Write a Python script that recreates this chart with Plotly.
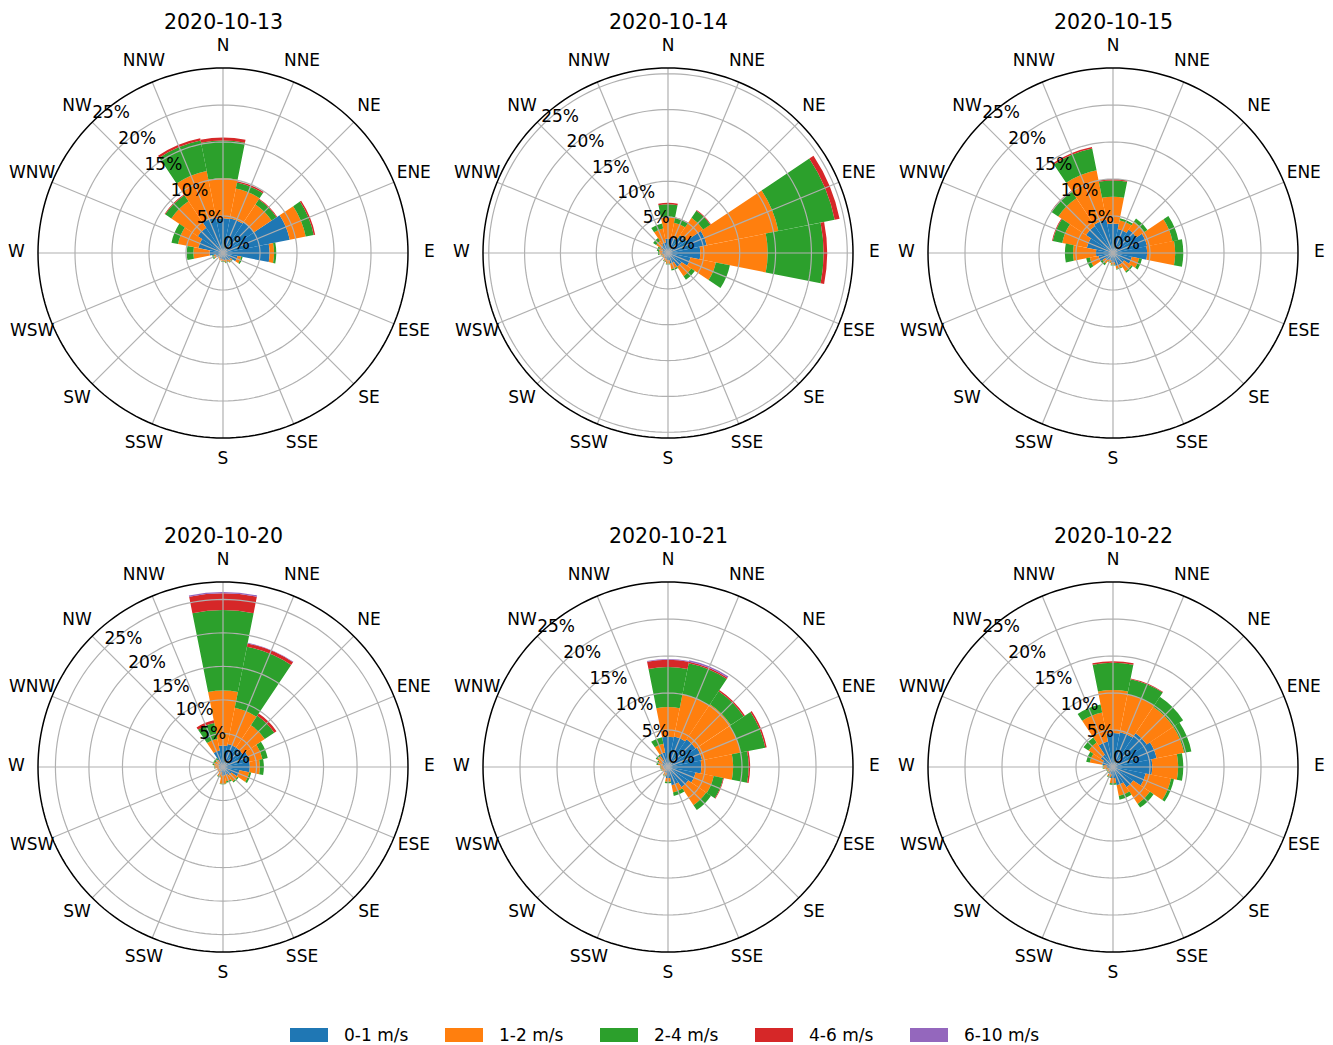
import plotly.graph_objects as go

# ---------------- data ----------------
directions = ["N", "NNE", "NE", "ENE", "E", "ESE", "SE", "SSE",
              "S", "SSW", "SW", "WSW", "W", "WNW", "NW", "NNW"]
angles = [i * 22.5 for i in range(16)]
speed_bins = ["0-1 m/s", "1-2 m/s", "2-4 m/s", "4-6 m/s", "6-10 m/s"]
bin_colors = ["#1f77b4", "#ff7f0e", "#2ca02c", "#d62728", "#9467bd"]
days = ["2020-10-13", "2020-10-14", "2020-10-15",
        "2020-10-20", "2020-10-21", "2020-10-22"]
radial_ticks = [0, 5, 10, 15, 20, 25]
radial_labels = ["0%", "5%", "10%", "15%", "20%", "25%"]

# frequency (%) per speed bin (rows) and direction (columns N..NNW)
oct13 = [
    [4.7, 4.8, 5.0, 9.2, 6.3, 2.0, 1.2, 1.0, 0.9, 0.8, 0.6, 1.0, 1.8, 3.4, 4.1, 4.9],
    [5.4, 4.1, 2.9, 2.2, 0.6, 0.5, 0.3, 0.3, 0.2, 0.2, 0.2, 0.3, 2.2, 2.8, 4.3, 6.4],
    [5.1, 0.8, 0.8, 1.1, 0.3, 0.2, 0.1, 0.1, 0.1, 0.0, 0.0, 0.2, 0.9, 0.9, 1.0, 4.2],
    [0.4, 0.2, 0.1, 0.2, 0.0, 0.0, 0.0, 0.0, 0.0, 0.0, 0.0, 0.0, 0.0, 0.0, 0.1, 0.3],
    [0.0, 0.0, 0.0, 0.0, 0.0, 0.0, 0.0, 0.0, 0.0, 0.0, 0.0, 0.0, 0.0, 0.0, 0.0, 0.0],
]
oct14 = [
    [2.0, 2.2, 3.0, 5.5, 4.5, 3.2, 2.3, 1.5, 1.0, 0.8, 0.6, 0.6, 0.8, 0.8, 1.2, 1.5],
    [3.1, 2.1, 2.9, 10.2, 9.4, 3.6, 1.6, 0.8, 0.5, 0.4, 0.3, 0.3, 0.4, 0.5, 0.8, 2.0],
    [1.7, 0.7, 1.2, 8.0, 7.8, 2.0, 0.6, 0.2, 0.1, 0.1, 0.0, 0.1, 0.2, 0.3, 0.5, 0.7],
    [0.2, 0.1, 0.1, 0.7, 0.5, 0.0, 0.0, 0.0, 0.0, 0.0, 0.0, 0.0, 0.0, 0.0, 0.0, 0.0],
    [0.0, 0.0, 0.0, 0.0, 0.0, 0.0, 0.0, 0.0, 0.0, 0.0, 0.0, 0.0, 0.0, 0.0, 0.0, 0.0],
]
oct15 = [
    [4.0, 3.3, 3.8, 4.7, 4.6, 2.6, 1.8, 1.8, 1.3, 1.0, 1.2, 2.0, 2.3, 3.6, 4.4, 4.6],
    [3.6, 1.2, 1.3, 3.5, 3.8, 1.0, 1.2, 0.4, 0.3, 0.3, 0.5, 1.2, 3.1, 3.4, 4.5, 6.8],
    [2.2, 0.3, 0.5, 0.8, 1.1, 0.4, 0.2, 0.1, 0.1, 0.1, 0.3, 0.5, 1.1, 1.3, 1.1, 3.0],
    [0.2, 0.0, 0.0, 0.0, 0.0, 0.0, 0.0, 0.0, 0.0, 0.0, 0.0, 0.0, 0.0, 0.1, 0.1, 0.2],
    [0.0, 0.0, 0.0, 0.0, 0.0, 0.0, 0.0, 0.0, 0.0, 0.0, 0.0, 0.0, 0.0, 0.0, 0.0, 0.0],
]
oct20 = [
    [3.2, 3.5, 3.5, 4.0, 4.0, 2.5, 1.5, 1.2, 1.3, 0.8, 0.5, 0.5, 0.6, 0.7, 0.8, 2.5],
    [8.2, 5.5, 4.0, 2.0, 1.5, 1.5, 1.1, 1.0, 1.2, 0.7, 0.5, 0.4, 0.6, 0.7, 0.5, 1.8],
    [12.0, 9.3, 1.7, 0.8, 0.6, 0.3, 0.2, 0.2, 0.1, 0.1, 0.0, 0.0, 0.1, 0.2, 0.3, 2.4],
    [2.5, 0.5, 0.4, 0.0, 0.0, 0.0, 0.0, 0.0, 0.0, 0.0, 0.0, 0.0, 0.0, 0.0, 0.0, 0.4],
    [0.2, 0.1, 0.0, 0.0, 0.0, 0.0, 0.0, 0.0, 0.0, 0.0, 0.0, 0.0, 0.0, 0.0, 0.0, 0.0],
]
oct21 = [
    [4.1, 4.2, 4.5, 4.7, 4.5, 3.8, 3.3, 2.5, 1.5, 0.8, 0.5, 0.5, 0.6, 0.8, 1.0, 2.0],
    [4.0, 5.8, 5.7, 5.3, 4.3, 2.5, 2.9, 1.0, 0.5, 0.4, 0.3, 0.4, 0.4, 0.6, 0.8, 1.2],
    [5.4, 4.3, 2.1, 3.4, 2.1, 1.3, 0.8, 0.5, 0.2, 0.1, 0.0, 0.1, 0.1, 0.2, 0.2, 0.9],
    [1.0, 0.2, 0.2, 0.2, 0.2, 0.1, 0.0, 0.0, 0.0, 0.0, 0.0, 0.0, 0.0, 0.0, 0.0, 0.0],
    [0.1, 0.2, 0.0, 0.0, 0.0, 0.0, 0.0, 0.0, 0.0, 0.0, 0.0, 0.0, 0.0, 0.0, 0.0, 0.0],
]
oct22 = [
    [4.6, 4.8, 5.5, 6.0, 5.3, 4.5, 3.3, 2.5, 1.5, 1.0, 0.6, 0.6, 0.8, 1.5, 2.0, 3.5],
    [5.8, 5.2, 4.3, 3.8, 3.5, 3.5, 2.7, 1.5, 0.7, 0.4, 0.3, 0.3, 0.5, 1.7, 2.0, 4.0],
    [3.7, 2.1, 1.6, 1.0, 0.7, 0.4, 0.6, 0.5, 0.2, 0.1, 0.1, 0.1, 0.1, 0.5, 0.8, 1.1],
    [0.2, 0.1, 0.0, 0.0, 0.0, 0.0, 0.0, 0.0, 0.0, 0.0, 0.0, 0.0, 0.0, 0.0, 0.0, 0.0],
    [0.0, 0.0, 0.0, 0.0, 0.0, 0.0, 0.0, 0.0, 0.0, 0.0, 0.0, 0.0, 0.0, 0.0, 0.0, 0.0],
]
tables = [oct13, oct14, oct15, oct20, oct21, oct22]

# ---------------- layout constants ----------------
OFF = 8                      # default page margin of the html body
W, H = 1333 - OFF, 1045 - OFF
R_PX = 185                   # pixel radius of the visible rose circle
LABEL_R_PX = 206.5           # pixel radius where compass labels are centred
EXT = 1.16                   # radial range extension so labels fit inside the subplot
centers = [(223, 253), (668, 253), (1113, 253), (223, 767), (668, 767), (1113, 767)]
rmax_list = [25, 25.8, 25, 27.6, 25, 25]
FONT = "DejaVu Sans"
GRID = "#b0b0b0"
LABEL_ANGLE = 315


def px(x):
    return (x - OFF) / W


def py(y):
    return 1 - (y - OFF) / H


fig = go.Figure()
layout_polars = {}
annotations = []
ring_theta = [i * 2 for i in range(181)]

for k, (day, table, rmax) in enumerate(zip(days, tables, rmax_list)):
    pid = "polar" if k == 0 else f"polar{k + 1}"
    for b in range(len(speed_bins)):
        fig.add_trace(go.Barpolar(
            r=table[b], theta=angles, width=22.5,
            marker=dict(color=bin_colors[b], line=dict(width=0)),
            name=speed_bins[b], subplot=pid, showlegend=False,
        ))
    # grid drawn above the bars, as in the reference
    ring_r, ring_t = [], []
    for rv in radial_ticks[1:]:
        if rv < rmax:
            ring_r += [rv] * len(ring_theta) + [None]
            ring_t += ring_theta + [None]
    fig.add_trace(go.Scatterpolar(
        r=ring_r, theta=ring_t, mode="lines",
        line=dict(color=GRID, width=1.2), subplot=pid,
        showlegend=False, hoverinfo="skip",
    ))
    sp_r, sp_t = [], []
    for a in angles:
        sp_r += [0, rmax, None]
        sp_t += [a, a, None]
    fig.add_trace(go.Scatterpolar(
        r=sp_r, theta=sp_t, mode="lines",
        line=dict(color=GRID, width=1.2), subplot=pid,
        showlegend=False, hoverinfo="skip",
    ))
    # outer frame of the rose
    fig.add_trace(go.Scatterpolar(
        r=[rmax] * len(ring_theta), theta=ring_theta, mode="lines",
        line=dict(color="black", width=1.5), subplot=pid,
        showlegend=False, hoverinfo="skip",
    ))
    # radial (percentage) labels
    fig.add_trace(go.Scatterpolar(
        r=radial_ticks, theta=[LABEL_ANGLE] * len(radial_ticks),
        mode="text", text=radial_labels, textposition="top right",
        textfont=dict(size=17, color="black", family=FONT),
        subplot=pid, showlegend=False, hoverinfo="skip", cliponaxis=False,
    ))
    # compass labels, centred at a fixed distance outside the circle
    fig.add_trace(go.Scatterpolar(
        r=[rmax * LABEL_R_PX / R_PX] * len(angles), theta=angles,
        mode="text", text=directions, textposition="middle center",
        textfont=dict(size=17, color="black", family=FONT),
        subplot=pid, showlegend=False, hoverinfo="skip", cliponaxis=False,
    ))
    cx, cy = centers[k]
    rd = R_PX * EXT
    layout_polars[pid] = dict(
        domain=dict(x=[px(cx - rd), px(cx + rd)],
                    y=[py(cy + rd), py(cy - rd)]),
        bgcolor="white",
        barmode="stack",
        radialaxis=dict(range=[0, rmax * EXT], showticklabels=False,
                        showgrid=False, showline=False, ticks=""),
        angularaxis=dict(direction="clockwise", rotation=90,
                         showticklabels=False, ticks="",
                         showgrid=False, showline=False),
    )
    annotations.append(dict(
        text=day, x=px(cx), y=py(cy - 231), xref="paper", yref="paper",
        xanchor="center", yanchor="middle", showarrow=False,
        font=dict(size=20.5, color="black", family=FONT),
    ))

# custom legend (wide swatches like the reference)
shapes = []
LEG_X0, LEG_STEP, SW_W, LEG_Y = 290, 155, 38, 1035
for b, (lab, col) in enumerate(zip(speed_bins, bin_colors)):
    x0 = LEG_X0 + b * LEG_STEP
    shapes.append(dict(type="rect", xref="paper", yref="paper",
                       x0=px(x0), x1=px(x0 + SW_W),
                       y0=py(LEG_Y + 7), y1=py(LEG_Y - 7),
                       fillcolor=col, line=dict(width=0)))
    annotations.append(dict(
        text=lab, x=px(x0 + SW_W + 14), y=py(LEG_Y),
        xref="paper", yref="paper", xanchor="left", yanchor="middle",
        showarrow=False, font=dict(size=17, color="black", family=FONT),
    ))

fig.update_layout(
    width=W, height=H,
    margin=dict(l=0, r=0, t=0, b=0),
    paper_bgcolor="white",
    font=dict(family=FONT, color="black"),
    showlegend=False,
    annotations=annotations,
    shapes=shapes,
    **layout_polars,
)

fig.write_html("out.html")
